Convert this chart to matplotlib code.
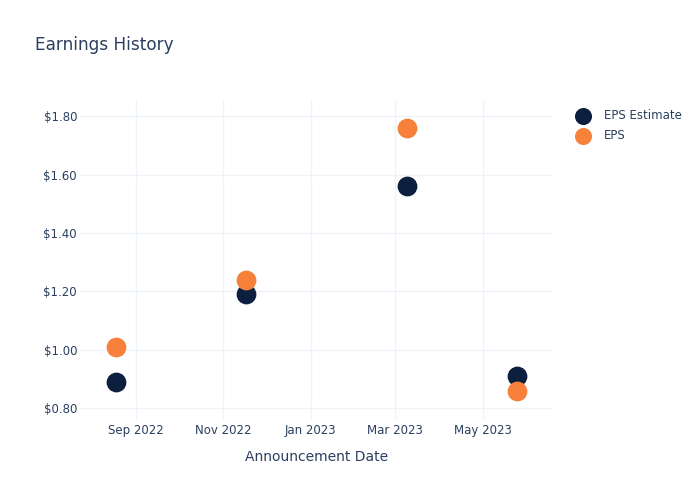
import datetime as dt
import matplotlib
matplotlib.use("Agg")
import matplotlib.pyplot as plt
import matplotlib.dates as mdates
from matplotlib.ticker import FuncFormatter

# announcement dates and earnings per share
DATES = ["2022-08-18", "2022-11-17", "2023-03-09", "2023-05-25"]
EPS_ESTIMATE = [0.89, 1.19, 1.56, 0.91]
EPS_ACTUAL = [1.01, 1.24, 1.76, 0.86]

TEXT = "#2a3f5f"
GRID = "#eef2f9"


def plot_history(dates, est, act):
    fig = plt.figure(figsize=(7, 5), dpi=100)
    ax = fig.add_axes([0.114, 0.16, 0.676, 0.64])

    ax.scatter(dates, est, s=175, color="#0c1f3f", zorder=3, label="EPS Estimate")
    ax.scatter(dates, act, s=175, color="#f7813a", zorder=3, label="EPS")

    ax.set_xlim(dt.date(2022, 7, 24), dt.date(2023, 6, 19))
    ax.set_ylim(0.76, 1.855)
    ax.set_yticks([0.8, 1.0, 1.2, 1.4, 1.6, 1.8])
    ax.yaxis.set_major_formatter(FuncFormatter(lambda v, p: "${:.2f}".format(v)))
    ax.xaxis.set_major_locator(mdates.MonthLocator(bymonth=[1, 3, 5, 9, 11]))
    ax.xaxis.set_major_formatter(mdates.DateFormatter("%b %Y"))

    for s in ax.spines.values():
        s.set_visible(False)
    ax.grid(True, color=GRID, linewidth=1)
    ax.set_axisbelow(True)
    ax.tick_params(axis="both", length=0, labelsize=8.5, labelcolor=TEXT)
    ax.tick_params(axis="y", pad=2)
    ax.tick_params(axis="x", pad=3)

    ax.set_xlabel("Announcement Date", fontsize=10, color=TEXT, labelpad=9)
    fig.text(0.05, 0.9, "Earnings History", fontsize=12.2, color=TEXT)

    ax.legend(loc="upper left", bbox_to_anchor=(1.017, 1.005), frameon=False,
              fontsize=8.5, labelcolor=TEXT, handletextpad=0.7, labelspacing=0.6,
              markerscale=0.85)

    fig.savefig("out.png", dpi=100)


def run():
    dates = [dt.datetime.strptime(d, "%Y-%m-%d") for d in DATES]
    plot_history(dates, EPS_ESTIMATE, EPS_ACTUAL)


if __name__ == "__main__":
    run()
